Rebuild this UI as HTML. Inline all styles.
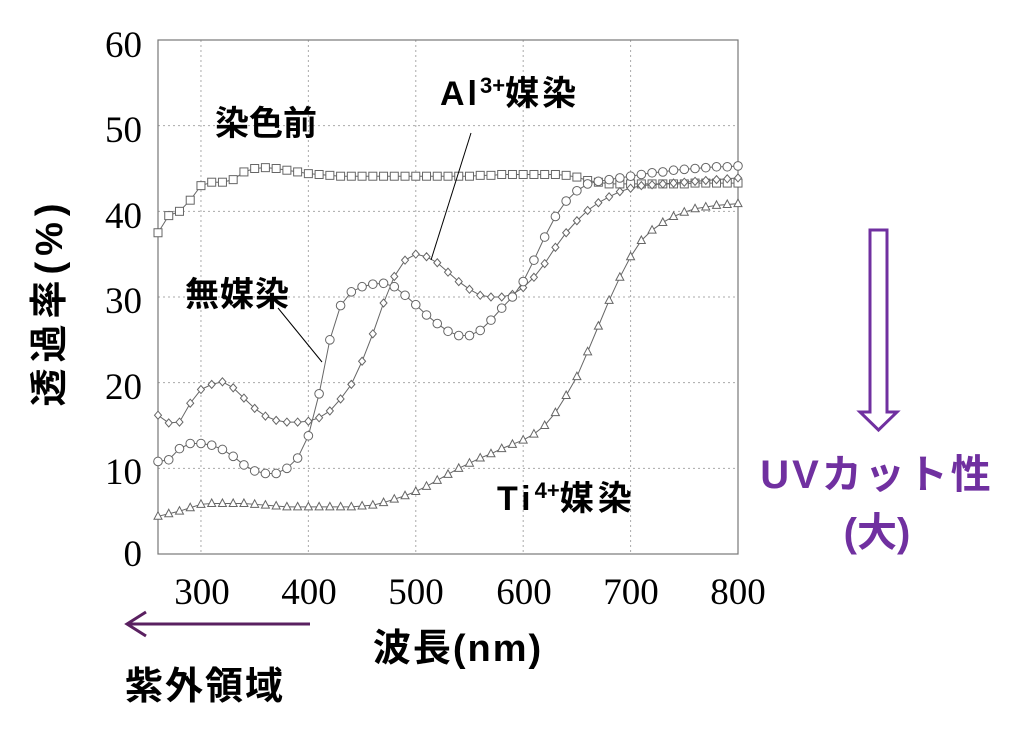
<!DOCTYPE html>
<html><head><meta charset="utf-8"><style>
body{margin:0;background:#fff;}
svg{display:block;}
.j{font-family:"Liberation Sans","Noto Sans CJK JP",sans-serif;font-weight:bold;}
.n{font-family:"Liberation Serif",serif;font-size:37px;}
</style></head><body>
<svg id="s" width="1024" height="732" viewBox="0 0 1024 732" xmlns="http://www.w3.org/2000/svg">
<g id="grid" stroke="#aaa" stroke-width="1" stroke-dasharray="2,3"></g>
<rect x="158" y="40" width="580" height="514" fill="none" stroke="#777" stroke-width="1.2"/>
<g id="data"></g>
<g class="n" fill="#000">
<text x="142" y="57" text-anchor="end">60</text>
<text x="142" y="142" text-anchor="end">50</text>
<text x="142" y="228" text-anchor="end">40</text>
<text x="142" y="313" text-anchor="end">30</text>
<text x="142" y="399" text-anchor="end">20</text>
<text x="142" y="484" text-anchor="end">10</text>
<text x="142" y="566" text-anchor="end">0</text>
<text x="202" y="604" text-anchor="middle">300</text>
<text x="309" y="604" text-anchor="middle">400</text>
<text x="416" y="604" text-anchor="middle">500</text>
<text x="524" y="604" text-anchor="middle">600</text>
<text x="631" y="604" text-anchor="middle">700</text>
<text x="738" y="604" text-anchor="middle">800</text>
</g>
<g class="j" font-size="34" fill="#000">
<text x="215" y="135">染色前</text>
<text x="440" y="105" letter-spacing="3">Al<tspan font-size="22" dy="-12" letter-spacing="0">3+</tspan><tspan dy="12">媒染</tspan></text>
<text x="185" y="306" letter-spacing="1">無媒染</text>
<text x="497" y="510" letter-spacing="4">Ti<tspan font-size="22" dy="-12" letter-spacing="0">4+</tspan><tspan dy="12">媒染</tspan></text>
<text x="458" y="661" text-anchor="middle" font-size="38" letter-spacing="2">波長(nm)</text>
<text x="205" y="699" text-anchor="middle" font-size="38" letter-spacing="2">紫外領域</text>
<text transform="translate(62,302) rotate(-90)" text-anchor="middle" font-size="38" letter-spacing="6">透過率(%)</text>
</g>
<line x1="471" y1="133" x2="431" y2="260" stroke="#000" stroke-width="1"/>
<line x1="278" y1="308" x2="322" y2="362" stroke="#000" stroke-width="1"/>
<line x1="310" y1="624" x2="128" y2="624" stroke="#5a2060" stroke-width="3"/>
<polyline points="146,612 127,624 146,636" fill="none" stroke="#5a2060" stroke-width="3"/>
<path d="M870,230 H887 V412 H897 L878.5,430 L860,412 H870 Z" fill="none" stroke="#7030a0" stroke-width="3"/>
<g class="j" fill="#7030a0" font-size="40">
<text x="877" y="488" text-anchor="middle" letter-spacing="3">UVカット性</text>
<text x="877" y="546" text-anchor="middle">(大)</text>
</g>
</svg>
<script>
var NS="http://www.w3.org/2000/svg";
function X(w){return 158+(w-260)*580/540;}
function Y(v){return 554-v*514/60;}
var g=document.getElementById('grid');
[300,400,500,600,700].forEach(function(w){var l=document.createElementNS(NS,'line');l.setAttribute('x1',X(w));l.setAttribute('x2',X(w));l.setAttribute('y1',40);l.setAttribute('y2',554);g.appendChild(l);});
[10,20,30,40,50].forEach(function(v){var l=document.createElementNS(NS,'line');l.setAttribute('x1',158);l.setAttribute('x2',738);l.setAttribute('y1',Y(v));l.setAttribute('y2',Y(v));g.appendChild(l);});
var sq=[37.5,39.5,40,41.3,43,43.4,43.4,43.7,44.6,45,45.1,45,44.8,44.6,44.4,44.3,44.2,44.1,44.1,44.1,44.1,44.1,44.1,44.1,44.1,44.1,44.1,44.1,44.1,44.1,44.2,44.2,44.3,44.3,44.3,44.3,44.3,44.3,44.2,44.0,43.6,43.4,43.2,43.2,43.2,43.2,43.2,43.2,43.2,43.2,43.3,43.3,43.3,43.3,43.3];
var ci=[10.8,11,12.3,12.9,12.9,12.7,12.2,11.4,10.4,9.7,9.4,9.4,10,11.2,13.8,18.7,25,29,30.6,31.2,31.5,31.6,31.2,30.2,29.1,27.9,26.9,26,25.5,25.5,26.1,27.3,28.7,30,31.8,34.3,37,39.4,41.2,42.4,43.2,43.5,43.7,43.9,44.1,44.3,44.5,44.6,44.8,44.9,45,45.1,45.2,45.2,45.3];
var di=[16.2,15.3,15.4,17.6,19.2,19.8,20.1,19.4,18.2,17,16.1,15.6,15.4,15.4,15.5,15.9,16.7,18.1,19.8,22.5,25.7,29.3,32.4,34.3,35,34.7,34,32.9,31.8,30.9,30.2,30,30,30.3,31.1,32.3,33.9,35.8,37.5,38.9,40.1,41,41.7,42.3,42.7,43,43.1,43.2,43.3,43.4,43.5,43.6,43.7,43.8,43.9];
var tr=[4.4,4.7,5,5.4,5.8,5.9,5.9,5.9,5.9,5.8,5.7,5.6,5.5,5.5,5.5,5.5,5.5,5.5,5.5,5.6,5.7,6,6.4,6.8,7.3,7.9,8.6,9.3,10,10.6,11.2,11.7,12.3,12.8,13.3,14,15,16.5,18.5,20.7,23.6,26.6,29.6,32.3,34.7,36.6,37.8,38.7,39.4,39.9,40.3,40.5,40.7,40.8,40.9];
var d=document.getElementById('data');
function series(arr,type){
 var pts=arr.map(function(v,i){return [X(260+i*10),Y(v)];});
 var pl=document.createElementNS(NS,'polyline');
 pl.setAttribute('points',pts.map(function(p){return p.join(',');}).join(' '));
 pl.setAttribute('fill','none');pl.setAttribute('stroke','#666');pl.setAttribute('stroke-width','1');d.appendChild(pl);
 pts.forEach(function(p){var e,x=p[0],y=p[1];
  if(type=='s'){e=document.createElementNS(NS,'rect');e.setAttribute('x',x-4);e.setAttribute('y',y-4);e.setAttribute('width',8);e.setAttribute('height',8);}
  else if(type=='c'){e=document.createElementNS(NS,'circle');e.setAttribute('cx',x);e.setAttribute('cy',y);e.setAttribute('r',4.3);}
  else if(type=='d'){e=document.createElementNS(NS,'polygon');e.setAttribute('points',[x,y-4,x+3.5,y,x,y+4,x-3.5,y].join(' '));}
  else {e=document.createElementNS(NS,'polygon');e.setAttribute('points',[x,y-4.5,x+4,y+3,x-4,y+3].join(' '));}
  e.setAttribute('fill','#fff');e.setAttribute('stroke','#666');e.setAttribute('stroke-width','1');d.appendChild(e);});
}
series(sq,'s');series(tr,'t');series(di,'d');series(ci,'c');
</script>
</body></html>
